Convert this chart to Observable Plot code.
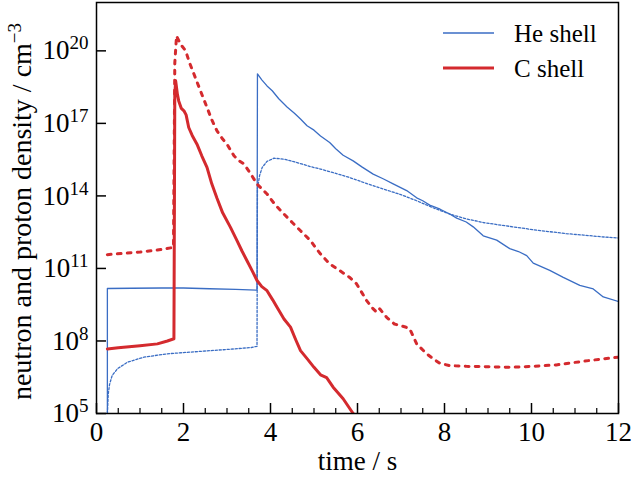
<!DOCTYPE html>
<html><head><meta charset="utf-8">
<script src="https://cdn.jsdelivr.net/npm/d3@7"></script>
<script src="https://cdn.jsdelivr.net/npm/@observablehq/plot@0.6"></script>
<style>
html,body{margin:0;padding:0;background:#fff;}
#wrap{position:relative;width:633px;height:479px;font-family:"Liberation Serif","Times New Roman",serif;}
#legend{position:absolute;left:0;top:0;pointer-events:none;}
</style></head><body><div id="wrap"></div>
<script>
// time (s), log10 density (cm^-3)
const heShellSolid = [[0.25,4.0],[0.25,10.17],[0.8,10.18],[1.5,10.19],[2.0,10.19],[2.6,10.16],[3.2,10.13],[3.69,10.10],[3.70,19.05],[3.80,18.80],[3.92,18.55],[4.04,18.35],[4.19,18.02],[4.38,17.68],[4.55,17.42],[4.69,17.18],[4.84,16.90],[5.00,16.72],[5.15,16.48],[5.36,16.21],[5.50,15.95],[5.67,15.68],[5.90,15.45],[6.10,15.20],[6.36,14.90],[6.60,14.70],[6.82,14.50],[7.13,14.22],[7.36,13.92],[7.50,13.80],[7.66,13.62],[7.90,13.45],[8.12,13.25],[8.28,13.08],[8.50,12.92],[8.66,12.72],[8.89,12.35],[9.20,12.17],[9.50,11.82],[9.70,11.70],[9.89,11.53],[10.04,11.22],[10.42,10.92],[10.73,10.63],[11.11,10.30],[11.42,10.15],[11.65,9.82],[12.0,9.63]];
const heShellDotted = [[0.25,4.0],[0.25,5.0],[0.27,5.8],[0.30,6.2],[0.36,6.57],[0.48,6.85],[0.71,7.12],[1.09,7.33],[1.63,7.47],[2.39,7.57],[3.16,7.67],[3.56,7.73],[3.69,7.78],[3.70,14.3],[3.75,14.85],[3.81,15.18],[3.92,15.43],[4.08,15.56],[4.31,15.52],[4.61,15.38],[4.92,15.21],[5.15,15.11],[5.50,14.93],[5.82,14.76],[6.20,14.52],[6.59,14.29],[7.0,14.05],[7.36,13.80],[7.75,13.50],[8.12,13.25],[8.5,13.05],[8.89,12.90],[9.3,12.79],[9.66,12.70],[10.05,12.60],[10.42,12.52],[10.8,12.44],[11.19,12.38],[11.6,12.31],[12.0,12.26]];
const cShellSolid = [[0.25,7.67],[0.5,7.72],[1.0,7.80],[1.4,7.88],[1.63,8.00],[1.78,8.09],[1.80,18.2],[1.82,18.76],[1.86,18.2],[1.89,17.93],[1.95,17.62],[2.01,17.52],[2.06,17.35],[2.12,16.83],[2.20,16.5],[2.31,16.14],[2.42,15.66],[2.54,15.18],[2.65,14.5],[2.77,13.90],[2.90,13.3],[3.08,12.70],[3.23,12.15],[3.35,11.7],[3.46,11.32],[3.58,10.9],[3.69,10.50],[3.80,10.25],[3.92,10.08],[4.05,9.7],[4.15,9.39],[4.31,8.91],[4.46,8.57],[4.58,8.05],[4.69,7.60],[4.85,7.25],[5.00,6.91],[5.15,6.60],[5.29,6.48],[5.44,6.09],[5.67,5.61],[5.90,5.00],[6.00,4.8]];
const cShellDashed = [[0.25,11.57],[0.6,11.62],[1.0,11.68],[1.4,11.76],[1.77,11.87],[1.80,19.5],[1.84,20.62],[1.93,20.28],[2.05,20.0],[2.14,19.5],[2.24,19.04],[2.40,18.3],[2.54,17.66],[2.65,17.15],[2.77,16.69],[2.90,16.35],[3.00,16.14],[3.16,15.66],[3.28,15.45],[3.39,15.32],[3.55,14.9],[3.69,14.49],[3.92,14.08],[4.10,13.65],[4.31,13.25],[4.50,12.9],[4.69,12.56],[4.92,12.15],[5.06,11.80],[5.15,11.60],[5.36,11.19],[5.60,10.90],[5.82,10.63],[5.98,10.36],[6.10,10.0],[6.21,9.67],[6.35,9.35],[6.44,9.19],[6.51,9.33],[6.67,8.98],[6.85,8.70],[6.97,8.64],[7.10,8.58],[7.20,8.50],[7.28,8.2],[7.36,7.88],[7.59,7.47],[7.75,7.25],[7.89,7.08],[8.12,6.98],[8.5,6.95],[8.89,6.94],[9.50,6.91],[10.04,6.95],[10.57,7.01],[11.19,7.16],[11.65,7.26],[12.0,7.33]];

const xMajorTicks = [0, 2, 4, 6, 8, 10, 12];
const xMinorTicks = [0.5,1,1.5,2.5,3,3.5,4.5,5,5.5,6.5,7,7.5,8.5,9,9.5,10.5,11,11.5];
const yTickExponents = [5, 8, 11, 14, 17, 20];
const seriesNames = ["He shell", "C shell"];
const xLabel = "time / s";
const yLabelBase = "neutron and proton density / cm";
const yLabelSup = "\u22123";

const BLUE = "#3a6dc4", RED = "#d42a2e";
const FONT = '"Liberation Serif","Times New Roman",serif';
const W = 633, H = 479, mL = 96, mR = 15, mT = 2, mB = 66;
const plotW = W - mL - mR, plotH = H - mT - mB;
const rows = arr => arr.map(([t, e]) => ({t, n: Math.pow(10, e)}));
const yTicks = yTickExponents.map(e => Math.pow(10, e));

const chart = Plot.plot({
  width: W, height: H,
  marginLeft: mL, marginRight: mR, marginTop: mT, marginBottom: mB,
  style: {fontFamily: FONT, fontSize: "27px", background: "white", color: "black"},
  x: {domain: [0, 12]},
  y: {type: "log", domain: [1e5, 1e22]},
  marks: [
    Plot.line(rows(heShellSolid), {x: "t", y: "n", stroke: BLUE, strokeWidth: 1.3, clip: true}),
    Plot.line(rows(heShellDotted), {x: "t", y: "n", stroke: BLUE, strokeWidth: 1.3, strokeDasharray: "2.2,1.8", clip: true}),
    Plot.line(rows(cShellSolid), {x: "t", y: "n", stroke: RED, strokeWidth: 3, strokeLinejoin: "round", clip: true}),
    Plot.line(rows(cShellDashed), {x: "t", y: "n", stroke: RED, strokeWidth: 3, strokeDasharray: "3.7,6.3", strokeLinecap: "round", strokeLinejoin: "round", clip: true}),
    Plot.frame({stroke: "black", strokeWidth: 1.5}),
    Plot.tickX(xMajorTicks, {x: d => d, insetTop: plotH - 10, stroke: "black", strokeWidth: 1.5}),
    Plot.tickX(xMinorTicks, {x: d => d, insetTop: plotH - 5, stroke: "black", strokeWidth: 1.2}),
    Plot.tickY(yTicks, {y: d => d, insetRight: plotW - 10, stroke: "black", strokeWidth: 1.5}),
    Plot.axisX({ticks: xMajorTicks, tickSize: 0, tickPadding: 8, label: null, tickFormat: d => String(d)}),
    Plot.axisY({ticks: yTicks, tickSize: 0, tickPadding: 8, label: null, tickFormat: d => "10^" + Math.round(Math.log10(d))}),
    Plot.text([xLabel], {frameAnchor: "bottom", dy: 56, fontSize: 27, text: d => d})
  ]
});

// superscripts on tick labels
const NS = "http://www.w3.org/2000/svg";
function supify(textEl, base, sup, supSize, shift) {
  textEl.textContent = "";
  const a = document.createElementNS(NS, "tspan"); a.textContent = base; textEl.appendChild(a);
  const b = document.createElementNS(NS, "tspan"); b.textContent = sup;
  b.setAttribute("font-size", supSize); b.setAttribute("dy", shift); textEl.appendChild(b);
}
chart.querySelectorAll("text").forEach(t => {
  const s = t.textContent;
  if (/^10\^\d+$/.test(s)) supify(t, "10", s.split("^")[1], 19, -10);
});

const wrap = document.getElementById("wrap");
wrap.appendChild(chart);

// overlay: y-axis title and legend
const ov = d3.select(wrap).append("svg").attr("id", "legend").attr("width", W).attr("height", H)
  .style("font-family", FONT);
const yt = ov.append("text").attr("transform", `translate(31,${mT + plotH / 2 + 4}) rotate(-90)`)
  .attr("text-anchor", "middle").attr("font-size", 28);
yt.append("tspan").text(yLabelBase);
yt.append("tspan").attr("font-size", 19).attr("dy", -10).text(yLabelSup);

const legItems = [
  {name: seriesNames[0], color: BLUE, w: 1.3, y: 33},
  {name: seriesNames[1], color: RED, w: 3, y: 68}
];
legItems.forEach(it => {
  ov.append("line").attr("x1", 443).attr("x2", 494).attr("y1", it.y).attr("y2", it.y)
    .attr("stroke", it.color).attr("stroke-width", it.w);
  ov.append("text").attr("x", 514).attr("y", it.y + 9).attr("font-size", 25).text(it.name);
});
</script></body></html>
